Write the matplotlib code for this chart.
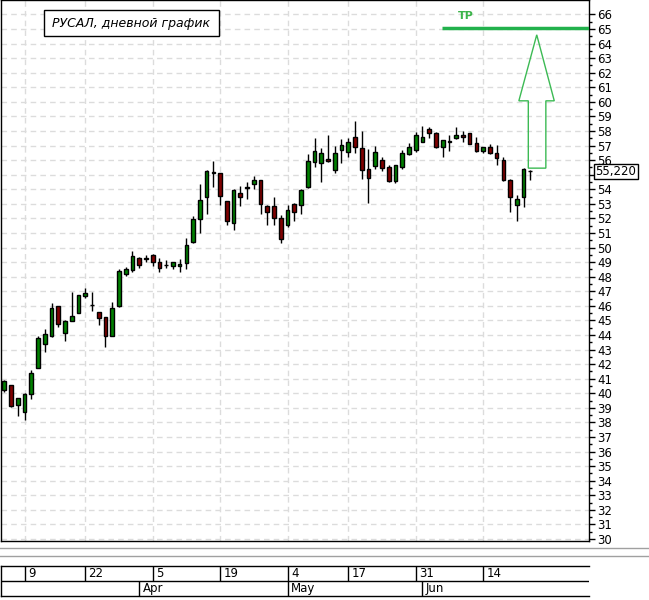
import numpy as np
import matplotlib
matplotlib.use('Agg')
import matplotlib.pyplot as plt
import matplotlib.font_manager as fm
from matplotlib.lines import Line2D
from matplotlib.patches import Rectangle, Polygon
from matplotlib.transforms import blended_transform_factory

# daily candles, RUSAL, Mar-Jun
opens = [40.22, 40.56, 39.21, 38.73, 39.92, 41.75, 43.40, 43.95, 45.99, 44.16,
         44.98, 45.53, 46.70, 46.03, 45.55, 45.21, 43.95, 45.99, 48.20, 48.48,
         49.30, 49.18, 49.51, 49.03, 48.78, 48.73, 48.73, 48.94, 50.38, 51.99,
         53.50, 55.13, 55.09, 53.18, 51.71, 53.71, 54.12, 54.38, 54.61, 52.86,
         52.82, 52.06, 51.55, 53.02, 52.89, 54.13, 55.85, 55.78, 56.06, 55.30,
         56.68, 56.54, 57.57, 56.82, 55.39, 55.57, 55.99, 55.51, 54.59, 55.51,
         56.40, 56.68, 57.27, 58.12, 57.85, 56.88, 57.25, 57.55, 57.71, 57.85,
         57.16, 56.65, 56.88, 56.47, 55.98, 54.67, 52.94, 53.49, 55.25]
highs = [40.90, 40.60, 39.70, 39.99, 41.59, 43.90, 44.38, 46.17, 46.00, 45.00,
         46.95, 46.75, 47.20, 46.97, 45.60, 45.25, 46.28, 48.55, 48.66, 49.74,
         49.35, 49.46, 49.55, 49.30, 49.12, 49.00, 49.19, 50.68, 52.15, 54.39,
         55.30, 55.93, 55.10, 53.20, 54.00, 54.22, 54.49, 54.91, 54.63, 52.90,
         53.44, 52.20, 52.91, 53.05, 54.00, 56.43, 57.51, 56.82, 57.74, 56.98,
         57.44, 57.51, 58.70, 57.97, 56.75, 56.98, 56.20, 55.67, 55.70, 56.70,
         57.16, 57.94, 58.35, 58.24, 57.96, 57.40, 57.73, 58.29, 58.01, 57.87,
         57.57, 56.90, 57.09, 57.04, 56.19, 54.70, 53.63, 55.43, 55.31]
lows = [40.10, 39.08, 38.46, 38.16, 39.62, 41.70, 42.85, 43.88, 44.57, 43.60,
        44.95, 45.50, 46.51, 45.67, 44.68, 43.19, 43.90, 45.95, 48.04, 48.32,
        48.59, 49.00, 48.73, 48.32, 48.59, 48.50, 48.32, 48.55, 50.31, 51.00,
        52.33, 54.17, 52.91, 51.53, 51.18, 52.84, 53.32, 54.01, 52.31, 51.53,
        51.53, 50.31, 51.41, 51.80, 52.33, 54.10, 55.55, 54.52, 55.90, 55.09,
        55.78, 56.24, 56.52, 54.72, 53.07, 55.37, 55.28, 54.52, 54.40, 55.37,
        56.38, 56.54, 57.25, 57.50, 56.85, 56.24, 56.65, 57.43, 57.27, 57.09,
        56.58, 56.51, 56.40, 55.70, 54.58, 52.43, 51.83, 52.78, 54.62]
closes = [40.84, 39.12, 39.65, 39.92, 41.36, 43.77, 44.06, 45.83, 44.73, 44.96,
          45.28, 46.74, 46.86, 46.07, 45.19, 43.95, 45.83, 48.36, 48.55, 49.44,
          48.82, 49.25, 49.00, 48.59, 48.82, 49.00, 48.89, 50.20, 51.99, 53.29,
          55.24, 55.17, 53.55, 51.83, 53.92, 53.48, 54.17, 54.61, 53.00, 52.45,
          52.03, 50.61, 52.61, 52.47, 53.92, 55.92, 56.66, 56.47, 55.97, 56.47,
          57.05, 57.23, 56.89, 55.34, 54.79, 56.54, 55.44, 54.59, 55.64, 56.47,
          56.89, 57.71, 57.57, 57.89, 56.88, 57.39, 57.30, 57.71, 57.57, 57.13,
          56.65, 56.88, 56.47, 56.12, 54.67, 53.49, 53.35, 55.36, 55.22]

day_ticks = [3, 12, 22, 32, 42, 51, 61, 71]
day_labels = ['9', '22', '5', '19', '4', '17', '31', '14']
month_ticks = [20, 42, 62]
month_labels = ['Apr', 'May', 'Jun']

last_price = 55.22
tp_price = 65.05
tp_start = 64.9
arrow_base, arrow_neck, arrow_tip = 55.45, 60.07, 64.6
arrow_x = [76.3, 77.7, 78.95, 80.3, 81.55]  # wing, shaft L, tip, shaft R, wing

names = {f.name for f in fm.fontManager.ttflist}
narrow = 'Liberation Sans Narrow' if 'Liberation Sans Narrow' in names else 'DejaVu Sans'

W, H = 649, 600
fig = plt.figure(figsize=(W / 100, H / 100), dpi=100)
fig.patch.set_facecolor('white')

px = 6.744
x0 = 4.3
ax = fig.add_axes([1 / W, 1 - 541 / H, 588 / W, 541 / H])
ax.set_xlim((1 - x0) / px, (589 - x0) / px)
ax.set_ylim(29.86, 66.99)

idx = np.arange(len(opens))
o = np.array(opens); c = np.array(closes)
cols = np.where(c >= o, '#008000', '#800000')
ax.vlines(idx, lows, highs, color='black', lw=1, zorder=2)
ax.bar(idx, np.maximum(np.abs(c - o), 0.02), bottom=np.minimum(o, c), width=0.55,
       color=cols, edgecolor='black', linewidth=1, zorder=3)

# grid
yt = np.arange(30, 67)
ax.set_xticks(day_ticks)
ax.set_yticks(yt)
ax.set_yticklabels(['' if v == 55 else str(v) for v in yt])  # hidden under price box
ax.set_yticks(np.arange(30.5, 66.5, 1), minor=True)
ax.grid(True, which='major', color='#dcdcdc', linestyle=(0, (4, 3)), lw=1, zorder=0)
ax.tick_params(axis='x', length=0, labelbottom=False)
ax.yaxis.tick_right()
ax.tick_params(axis='y', which='major', length=4, width=1, pad=2, labelsize=8.5, colors='black')
ax.tick_params(axis='y', which='minor', length=2, width=1)
for lab in ax.get_yticklabels():
    lab.set_fontfamily(narrow)
for s in ax.spines.values():
    s.set_color('black'); s.set_linewidth(1)

# last price label
tr = blended_transform_factory(ax.transAxes, ax.transData)
ax.text(1.011, last_price, '55,220', transform=tr, ha='left', va='center',
        fontsize=8.5, family=narrow, clip_on=False, zorder=5,
        bbox=dict(boxstyle='square,pad=0.12', fc='white', ec='black', lw=1))

# TP level and arrow
ax.hlines(tp_price, tp_start, ax.get_xlim()[1], color='#22b14c', lw=2.5, zorder=4)
ax.text(68.5, 65.9, 'TP', color='#3cb44b', fontsize=8, fontweight='bold',
        ha='center', va='center', zorder=4)
arrow = Polygon([(arrow_x[1], arrow_base), (arrow_x[3], arrow_base), (arrow_x[3], arrow_neck),
                 (arrow_x[4], arrow_neck), (arrow_x[2], arrow_tip), (arrow_x[0], arrow_neck),
                 (arrow_x[1], arrow_neck)], closed=True, fill=False,
                edgecolor='#3cba54', lw=1, zorder=4)
ax.add_patch(arrow)

# title box
fig.add_artist(Rectangle((44 / W, 1 - 36 / H), 175 / W, 26 / H, transform=fig.transFigure,
                         fc='white', ec='black', lw=1, zorder=6))
fig.text(131.5 / W, 1 - 23 / H, 'РУСАЛ, дневной график', ha='center', va='center',
         fontsize=9, style='italic', zorder=7)

# separator lines
for yy in (548, 556):
    fig.add_artist(Line2D([0, 1], [1 - yy / H, 1 - yy / H], transform=fig.transFigure,
                          color='#a0a0a0', lw=1))

# date axis
dax = fig.add_axes([1 / W, 1 - 596 / H, 588 / W, 30 / H])
dax.set_xlim(ax.get_xlim())
dax.set_ylim(0, 2)
dax.set_xticks([]); dax.set_yticks([])
for k in ('right', 'bottom', 'top'):
    dax.spines[k].set_visible(False)
dax.spines['left'].set_linewidth(1)
dax.axhline(2, color='black', lw=1, clip_on=False)
dax.axhline(1, color='black', lw=1)
dax.axhline(0, color='black', lw=1, clip_on=False)
dax.vlines(day_ticks, 1, 2, color='black', lw=1)
dax.vlines(month_ticks, 0, 1, color='black', lw=1)
for t, lab in zip(day_ticks, day_labels):
    dax.text(t + 0.5, 1.5, lab, ha='left', va='center', fontsize=8.5, family=narrow)
for t, lab in zip(month_ticks, month_labels):
    dax.text(t + 0.5, 0.5, lab, ha='left', va='center', fontsize=8.5, family=narrow)

fig.savefig('out.png', dpi=100)
